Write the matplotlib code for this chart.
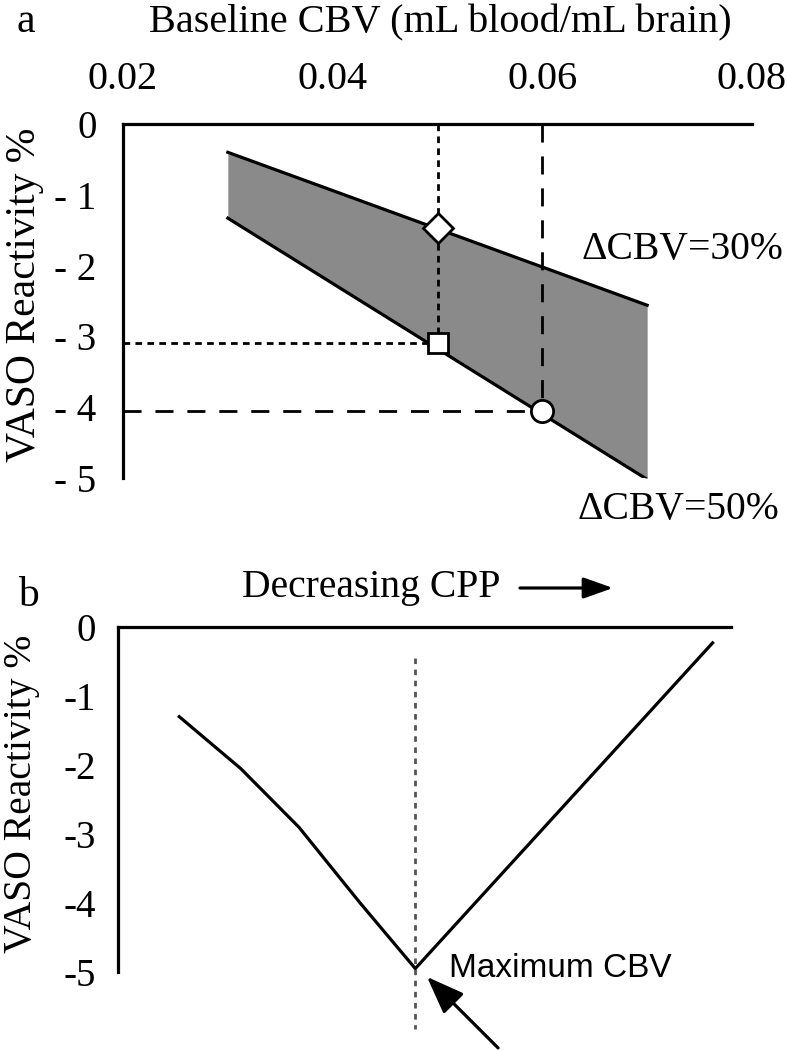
import matplotlib.pyplot as plt
from matplotlib.patches import FancyArrowPatch

plt.rcParams["font.family"] = ["Liberation Serif", "DejaVu Serif"]

# panel a: VASO reactivity vs baseline CBV
cbv_x = [0.03, 0.07]
vaso_dcbv30 = [-0.40, -2.56]
vaso_dcbv50 = [-1.33, -5.02]
diamond_pt = (0.05, -1.47)
square_pt = (0.05, -3.10)
circle_pt = (0.06, -4.06)
a_xticks = [0.02, 0.04, 0.06, 0.08]
a_xticklabels = ["0.02", "0.04", "0.06", "0.08"]
a_yticks = [0, -1, -2, -3, -4, -5]
a_yticklabels = ["0", "- 1", "- 2", "- 3", "- 4", "- 5"]

# panel b: VASO reactivity vs decreasing CPP (arbitrary units)
cpp_x = [1.0, 2.0, 2.95, 3.95, 4.85, 9.7]
vaso_cpp = [-1.30, -2.05, -2.90, -4.00, -4.95, -0.23]
max_cbv_x = 4.85
b_yticks = [0, -1, -2, -3, -4, -5]
b_yticklabels = ["0", "-1", "-2", "-3", "-4", "-5"]

W, H = 787, 1050
fig = plt.figure(figsize=(W / 100, H / 100), dpi=100)


def px_axes(left, top, right, bottom):
    return fig.add_axes([left / W, 1 - bottom / H, (right - left) / W, (bottom - top) / H])


def style_axes(ax, lw=2.3):
    for side in ["right", "bottom"]:
        ax.spines[side].set_visible(False)
    for side in ["left", "top"]:
        ax.spines[side].set_linewidth(lw)
        ax.spines[side].set_color("black")
    ax.tick_params(length=0)


# ---- panel a ----
ax = px_axes(123, 124, 752, 478)
style_axes(ax)
ax.set_xlim(0.02, 0.08)
ax.set_ylim(-5, 0)

ax.fill_between(cbv_x, vaso_dcbv30, vaso_dcbv50, color="#8a8a8a", lw=0, zorder=1)
ax.plot(cbv_x, vaso_dcbv30, color="black", lw=2.3, zorder=2)
ax.plot(cbv_x, vaso_dcbv50, color="black", lw=2.3, zorder=2)

dot = dict(color="black", lw=2.0, dashes=(2.4, 1.9), zorder=3)
ax.plot([square_pt[0], square_pt[0]], [0, square_pt[1]], **dot)
ax.plot([0.02, square_pt[0]], [square_pt[1], square_pt[1]], **dot)
dash = dict(color="black", lw=2.0, dashes=(6.5, 5.0), zorder=3)
ax.plot([circle_pt[0], circle_pt[0]], [0, circle_pt[1]], **dash)
ax.plot([0.02, circle_pt[0]], [circle_pt[1], circle_pt[1]], **dash)

mk = dict(color="white", markeredgecolor="black", markeredgewidth=2.0, zorder=5, clip_on=False)
ax.plot(*diamond_pt, marker="D", markersize=15.5, **mk)
ax.plot(*square_pt, marker="s", markersize=14.5, **mk)
ax.plot(*circle_pt, marker="o", markersize=16, **mk)

ax.xaxis.tick_top()
ax.set_xticks(a_xticks)
ax.set_xticklabels(a_xticklabels, fontsize=29)
ax.tick_params(axis="x", pad=19)
ax.set_yticks(a_yticks)
ax.set_yticklabels(a_yticklabels, fontsize=28)
ax.tick_params(axis="y", pad=19)

fig.text(440 / W, 1 - 23 / H, "Baseline CBV (mL blood/mL brain)", fontsize=29,
         ha="center", va="center")
fig.text(26 / W, 1 - 22 / H, "a", fontsize=30, ha="center", va="center")
fig.text(25 / W, 1 - 295 / H, "VASO Reactivity %", fontsize=30, rotation=90,
         ha="center", va="center")
fig.text(682 / W, 1 - 250 / H, "\u0394CBV=30%", fontsize=28.5, ha="center", va="center")
fig.text(678 / W, 1 - 510 / H, "\u0394CBV=50%", fontsize=28.5, ha="center", va="center")

# ---- panel b ----
bx = px_axes(118, 627, 731, 972)
style_axes(bx)
bx.set_xlim(0, 10)
bx.set_ylim(-5, 0)
bx.set_xticks([])
bx.set_yticks(b_yticks)
bx.set_yticklabels(b_yticklabels, fontsize=28)
bx.tick_params(axis="y", pad=16)

bx.plot(cpp_x, vaso_cpp, color="black", lw=2.3, zorder=3)
bx.plot([max_cbv_x, max_cbv_x], [-0.45, -5.82], color="#555555", lw=2.0,
        dashes=(2.0, 2.0), clip_on=False, zorder=2)

bx.text(5.4, -4.95, "Maximum CBV", fontsize=24, family=["Liberation Sans", "DejaVu Sans"],
        ha="left", va="center")
bx.annotate("", xy=(5.04, -5.07), xytext=(6.2, -6.1), annotation_clip=False,
            arrowprops=dict(arrowstyle="-|>,head_length=0.58,head_width=0.22",
                            mutation_scale=40, lw=2.3, color="black",
                            shrinkA=0, shrinkB=0))

fig.text(371 / W, 1 - 587 / H, "Decreasing CPP", fontsize=28.5, ha="center", va="center")
fig.text(28 / W, 1 - 596 / H, "b", fontsize=30, ha="center", va="center")
fig.text(22 / W, 1 - 794 / H, "VASO Reactivity %", fontsize=28.5, rotation=90,
         ha="center", va="center")
fig.add_artist(FancyArrowPatch(
    (520 / W, 1 - 588 / H), (613 / W, 1 - 588 / H), transform=fig.transFigure,
    arrowstyle="-|>,head_length=0.9,head_width=0.32", mutation_scale=20,
    lw=2.3, color="black", shrinkA=0, shrinkB=0))

fig.savefig("out.png", dpi=100)
